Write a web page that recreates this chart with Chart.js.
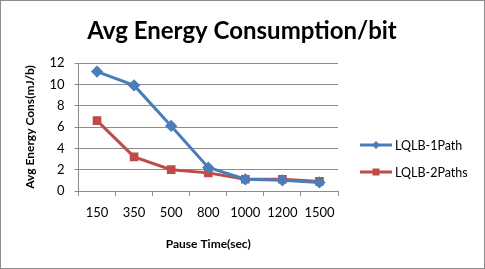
<!DOCTYPE html>
<html><head><meta charset="utf-8">
<script src="https://cdn.jsdelivr.net/npm/chart.js@4/dist/chart.umd.min.js"></script>
<style>html,body{margin:0;padding:0;background:#fff}#wrap{width:485px;height:269px;position:relative}</style>
</head><body><div id="wrap"><canvas id="c" width="485" height="269"></canvas></div>
<script>
const categories = ['150','350','500','800','1000','1200','1500'];
const path1 = [11.2, 9.9, 6.1, 2.2, 1.1, 1.0, 0.8];
const path2 = [6.6, 3.2, 2.0, 1.7, 1.1, 1.1, 0.9];
const seriesNames = ['LQLB-1Path', 'LQLB-2Paths'];
const yTicks = [0, 2, 4, 6, 8, 10, 12];
const chartTitle = 'Avg Energy Consumption/bit';

const FONT = 'Lato, "Open Sans", sans-serif';
const blue = '#4A7EBB', red = '#BE4B48';

const extras = {
  id: 'extras',
  afterDraw(chart) {
    const ctx = chart.ctx;
    ctx.save();
    ctx.strokeStyle = '#8c8c8c';
    ctx.lineWidth = 1;
    ctx.strokeRect(0.5, 0.5, 484, 268);
    // title
    ctx.fillStyle = '#000';
    ctx.font = 'bold 24px ' + FONT;
    ctx.textAlign = 'center';
    ctx.textBaseline = 'middle';
    ctx.fillText(chartTitle, 242, 31);
    // custom legend
    const items = [
      {name: seriesNames[0], color: blue, style: 'diamond', y: 145},
      {name: seriesNames[1], color: red, style: 'square', y: 172}
    ];
    items.forEach(it => {
      ctx.strokeStyle = it.color;
      ctx.lineWidth = 3;
      ctx.beginPath(); ctx.moveTo(360, it.y); ctx.lineTo(392, it.y); ctx.stroke();
      ctx.fillStyle = it.color;
      const cx = 376, cy = it.y;
      if (it.style === 'diamond') {
        ctx.beginPath(); ctx.moveTo(cx, cy-4); ctx.lineTo(cx+4, cy); ctx.lineTo(cx, cy+4); ctx.lineTo(cx-4, cy); ctx.closePath(); ctx.fill();
      } else {
        ctx.fillRect(cx-3.5, cy-3.5, 7, 7);
      }
      ctx.fillStyle = '#000';
      ctx.font = '12.5px ' + FONT;
      ctx.textBaseline = 'middle';
      ctx.textAlign = 'left';
      ctx.fillText(it.name, 395, it.y + 1);
    });
    ctx.restore();
  }
};

new Chart(document.getElementById('c'), {
  type: 'line',
  data: {
    labels: categories,
    datasets: [
      {label: seriesNames[0], data: path1, borderColor: blue, backgroundColor: blue, borderWidth: 3,
       pointStyle: 'rectRot', pointRadius: 4, pointHoverRadius: 4, tension: 0},
      {label: seriesNames[1], data: path2, borderColor: red, backgroundColor: red, borderWidth: 3,
       pointStyle: 'rect', pointRadius: 4, pointHoverRadius: 4, tension: 0}
    ]
  },
  options: {
    responsive: false,
    animation: false,
    layout: {padding: {left: 19, right: 147, top: 63, bottom: 14}},
    plugins: {
      legend: {display: false},
      tooltip: {enabled: false},
      title: {display: false}
    },
    scales: {
      x: {
        offset: true,
        grid: {display: true, drawOnChartArea: false, drawTicks: true, tickLength: 5, color: '#8c8c8c', offset: true},
        border: {color: '#8c8c8c'},
        ticks: {color: '#000', font: {family: FONT, size: 13}, padding: 9, maxRotation: 0, minRotation: 0, autoSkip: false},
        title: {display: true, text: 'Pause Time(sec)', color: '#000', font: {family: FONT, size: 12, weight: 'bold'}, padding: {top: 7}}
      },
      y: {
        min: 0, max: 12,
        afterBuildTicks(axis) { axis.ticks = yTicks.map(v => ({value: v})); },
        grid: {color: '#8c8c8c', drawTicks: true, tickLength: 4},
        border: {color: '#8c8c8c'},
        ticks: {color: '#000', font: {family: FONT, size: 13}, padding: 10},
        title: {display: true, text: 'Avg Energy Cons(mJ/b)', color: '#000', font: {family: FONT, size: 12, weight: 'bold'}, padding: {bottom: 2}}
      }
    }
  },
  plugins: [extras]
});
</script></body></html>
